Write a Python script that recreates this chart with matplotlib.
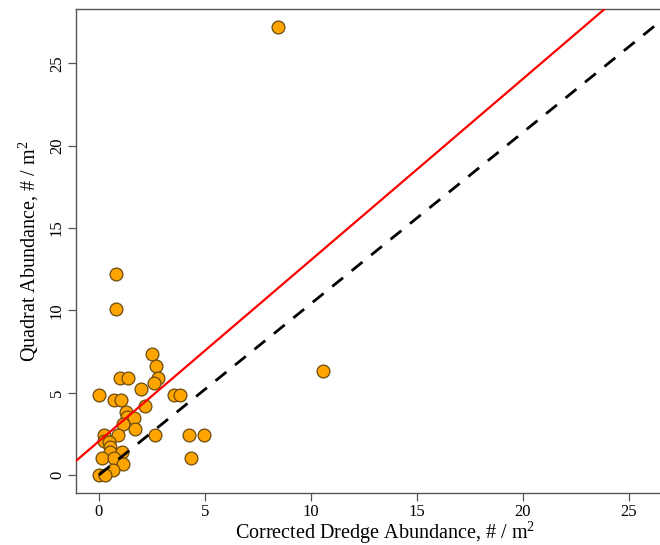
import numpy as np
import matplotlib
matplotlib.use("Agg")
import matplotlib.pyplot as plt

plt.rcParams['font.family'] = ['Liberation Serif', 'DejaVu Serif']
plt.rcParams['mathtext.fontset'] = 'custom'
plt.rcParams['mathtext.rm'] = 'Liberation Serif'

# dredge (corrected) vs quadrat abundance
dredge = [0.82, 0.80, 8.44, 10.57,
          2.50, 2.70, 2.78, 2.61, 1.00, 1.35, 2.01, 0.01, 0.71, 1.02,
          3.54, 3.81, 2.18, 1.27, 1.32, 1.65, 1.16, 1.70, 0.22, 0.88,
          2.63, 4.25, 4.94, 0.25, 0.46, 0.52, 0.53, 1.10, 0.17, 0.72,
          4.35, 1.16, 0.65, 0.00, 0.30]
quadrat = [10.1, 12.2, 27.2, 6.3,
           7.33, 6.62, 5.92, 5.58, 5.90, 5.90, 5.21, 4.85, 4.55, 4.55,
           4.85, 4.85, 4.20, 3.84, 3.50, 3.45, 3.13, 2.79, 2.42, 2.42,
           2.42, 2.42, 2.42, 2.08, 2.02, 1.72, 1.37, 1.37, 1.01, 1.01,
           1.05, 0.69, 0.32, 0.00, 0.00]

# fitted line (red) and the dashed reference line
fit_a, fit_b = 2.05, 1.10
ref_b = 1.04

fig = plt.figure(figsize=(6.6, 5.45), dpi=100)
ax = fig.add_axes([76/660, 1 - 493/545, 618/660, 484/545])

ax.scatter(dredge, quadrat, s=85, facecolor='#ffa500', edgecolor='#6b4a10',
           linewidth=0.9, zorder=2)
xx = np.array([-2, 30])
ax.plot(xx, fit_a + fit_b * xx, color='#ff0000', lw=1.6, zorder=3)
x0 = np.array([0, 30])
ax.plot(x0, ref_b * x0, color='black', lw=2.0, ls=(0, (5, 4)), zorder=3)

ax.set_xlim(-1.08, 28.08)
ax.set_ylim(-1.09, 28.3)
ax.set_xticks([0, 5, 10, 15, 20, 25])
ax.set_yticks([0, 5, 10, 15, 20, 25])
ax.tick_params(direction='out', length=6, width=0.9, color='#555555',
               labelsize=12, pad=2)
for lab in ax.get_yticklabels():
    lab.set_rotation(90)
    lab.set_va('center')
for s in ax.spines.values():
    s.set_color('#555555')
    s.set_linewidth(1.0)

ax.set_xlabel(r'Corrected Dredge Abundance, # / m$^2$', fontsize=14.5, labelpad=-1)
ax.set_ylabel(r'Quadrat Abundance, # / m$^2$', fontsize=14.5, labelpad=6)

fig.savefig('out.png', dpi=100)
